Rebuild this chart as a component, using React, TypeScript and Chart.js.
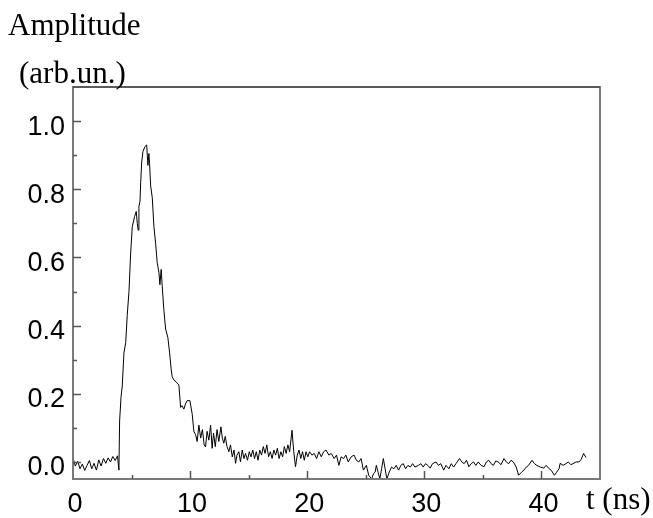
import React, { useEffect, useRef } from "react";
import { Chart, registerables } from "chart.js";

Chart.register(...registerables);

// time axis (ns)
const timeNs: number[] = [
  0, 0.2, 0.4, 0.6, 0.8, 1.0, 1.2, 1.4, 1.6, 1.8,
  2.0, 2.2, 2.4, 2.6, 2.8, 3.0, 3.2, 3.4, 3.6, 3.8,
  3.92, 3.98, 4.1, 4.2, 4.35, 4.5, 4.63, 4.78, 4.92, 5.06,
  5.26, 5.4, 5.49, 5.57, 5.63, 5.72, 5.78, 5.86, 5.97, 6.14,
  6.29, 6.4, 6.48, 6.54, 6.63, 6.77, 6.91, 7.06, 7.19, 7.34,
  7.42, 7.53, 7.62, 7.76, 7.91, 8.1, 8.25, 8.39, 8.47, 8.62,
  8.8, 9.04, 9.19, 9.3, 9.47, 9.6, 9.75, 9.98, 10.18, 10.32,
  10.47, 10.6, 10.75, 10.9, 11.05, 11.2, 11.32, 11.45, 11.6, 11.75,
  11.88, 12.0, 12.15, 12.3, 12.45, 12.63, 12.75, 12.88, 13.0, 13.15,
  13.31, 13.45, 13.6, 13.75, 13.88, 14.0, 14.16, 14.3, 14.45, 14.6,
  14.73, 14.9, 15.05, 15.2, 15.35, 15.5, 15.65, 15.8, 15.95, 16.1,
  16.25, 16.4, 16.55, 16.7, 16.85, 17.0, 17.15, 17.3, 17.45, 17.6,
  17.75, 17.9, 18.05, 18.2, 18.35, 18.5, 18.7, 18.85, 19.0, 19.15,
  19.3, 19.45, 19.6, 19.75, 19.9, 20.05, 20.2, 20.4, 20.6, 20.8,
  21.0, 21.2, 21.4, 21.6, 21.85, 22.05, 22.3, 22.5, 22.7, 22.9,
  23.1, 23.3, 23.5, 23.75, 24.0, 24.2, 24.4, 24.6, 24.8, 25.05,
  25.25, 25.5, 25.65, 25.8, 25.9, 26.05, 26.2, 26.35, 26.5, 26.65,
  26.8, 27.0, 27.2, 27.4, 27.6, 27.8, 28.0, 28.2, 28.4, 28.6,
  28.8, 29.0, 29.2, 29.5, 29.7, 29.9, 30.1, 30.3, 30.5, 30.7,
  31.0, 31.2, 31.4, 31.65, 31.85, 32.1, 32.3, 32.5, 32.7, 33.0,
  33.2, 33.4, 33.6, 33.8, 34.0, 34.2, 34.4, 34.6, 34.85, 35.1,
  35.3, 35.5, 35.7, 35.9, 36.1, 36.3, 36.55, 36.8, 37.0, 37.2,
  37.4, 37.6, 37.85, 38.05, 38.3, 38.5, 38.7, 38.9, 39.2, 39.4,
  39.6, 39.9, 40.2, 40.4, 40.6, 40.85, 41.1, 41.3, 41.5, 41.6,
  41.85, 42.1, 42.3, 42.5, 42.7, 42.95, 43.2, 43.4, 43.6, 43.8,
];

// amplitude (arb. units)
const amplitude: number[] = [
  0.012, -0.012, 0.002, -0.02, -0.006, -0.025, -0.01, 0.004, -0.02, -0.004,
  -0.024, 0.006, -0.012, 0.01, -0.004, 0.012, 0.0, 0.016, 0.004, 0.018,
  -0.024, 0.12, 0.19, 0.22, 0.32, 0.35, 0.43, 0.5, 0.61, 0.69,
  0.72, 0.735, 0.7, 0.68, 0.75, 0.765, 0.82, 0.877, 0.91, 0.925,
  0.93, 0.87, 0.905, 0.875, 0.81, 0.775, 0.69, 0.64, 0.585, 0.555,
  0.52, 0.565, 0.515, 0.445, 0.39, 0.365, 0.32, 0.27, 0.25, 0.24,
  0.235, 0.226, 0.16, 0.165, 0.155, 0.17, 0.18, 0.18, 0.14, 0.09,
  0.08, 0.06, 0.108, 0.07, 0.095, 0.05, 0.044, 0.09, 0.064, 0.108,
  0.04, 0.085, 0.045, 0.095, 0.06, 0.103, 0.07, 0.055, 0.075, 0.045,
  0.03, 0.05, 0.015, 0.035, -0.004, 0.02, 0.03, 0.0, 0.035, 0.01,
  0.025, 0.005, 0.03, 0.015, 0.035, 0.01, 0.03, 0.005, 0.035, 0.02,
  0.045, 0.025, 0.05, 0.015, 0.03, 0.01, 0.035, 0.02, 0.04, 0.01,
  0.03, 0.015, 0.045, 0.025, 0.05, 0.03, 0.093, 0.03, -0.014, 0.02,
  0.035, 0.01, 0.03, 0.005, 0.03, 0.015, 0.03, 0.02, 0.025, 0.01,
  0.03, 0.015, 0.03, 0.035, 0.02, 0.025, 0.01, 0.02, -0.01, 0.015,
  0.01, 0.02, 0.0, 0.015, 0.02, 0.005, 0.0, 0.01, -0.024, -0.01,
  -0.039, -0.05, -0.035, -0.03, -0.01, -0.03, -0.05, -0.02, 0.01, -0.02,
  -0.05, -0.03, -0.015, -0.02, -0.01, -0.024, -0.01, -0.005, -0.02, -0.01,
  -0.015, -0.005, -0.015, -0.01, -0.005, -0.015, -0.005, -0.01, -0.018, -0.005,
  0.0, -0.01, -0.005, -0.024, -0.01, -0.02, -0.005, -0.015, -0.005, 0.01,
  0.0, -0.005, 0.005, -0.014, -0.005, 0.0, -0.01, 0.0, -0.01, -0.014,
  0.0, 0.005, -0.005, -0.01, 0.003, 0.0, -0.008, 0.01, 0.0, -0.005,
  0.005, 0.0, -0.015, -0.039, -0.03, -0.024, -0.015, -0.01, 0.005, -0.005,
  -0.01, -0.015, -0.018, -0.01, -0.018, -0.025, -0.039, -0.03, -0.02, -0.004,
  -0.01, -0.005, 0.0, -0.008, -0.005, 0.0, 0.0, 0.008, 0.025, 0.013,
];

const xTickValues: number[] = [0, 5, 10, 15, 20, 25, 30, 35, 40, 45];
const xTickLabels: number[] = [0, 10, 20, 30, 40];
const yTickValues: number[] = [0, 0.1, 0.2, 0.3, 0.4, 0.5, 0.6, 0.7, 0.8, 0.9, 1.0];
const yTickLabels: string[] = ["0.0", "0.2", "0.4", "0.6", "0.8", "1.0"];

const yTitleLine1 = "Amplitude";
const yTitleLine2 = "(arb.un.)";
const xTitle = "t (ns)";

const isMajorX = (v: number) => xTickLabels.includes(v);
const yLabelFor = (v: number) => {
  const s = v.toFixed(1);
  return yTickLabels.includes(s) ? s : "";
};

const framePlugin = {
  id: "framePlugin",
  afterDatasetsDraw(chart: any) {
    const { ctx, chartArea: a, scales } = chart;
    ctx.save();
    // box
    ctx.strokeStyle = "#7a7a7a";
    ctx.lineWidth = 2;
    ctx.strokeRect(a.left, a.top, a.right - a.left, a.bottom - a.top);
    ctx.strokeStyle = "#5a5a5a";
    ctx.beginPath();
    ctx.moveTo(a.left, a.top);
    ctx.lineTo(a.right, a.top);
    ctx.stroke();
    // inward ticks
    ctx.strokeStyle = "#555";
    ctx.lineWidth = 1.5;
    for (const v of yTickValues) {
      const py = Math.round(scales.y.getPixelForValue(v)) + 0.5;
      const len = yLabelFor(v) ? 8 : 4;
      ctx.beginPath();
      ctx.moveTo(a.left, py);
      ctx.lineTo(a.left + len, py);
      ctx.stroke();
    }
    for (const v of xTickValues) {
      if (v === 0 || v === 45) continue;
      const px = Math.round(scales.x.getPixelForValue(v)) + 0.5;
      const len = isMajorX(v) ? 8 : 4;
      ctx.beginPath();
      ctx.moveTo(px, a.bottom);
      ctx.lineTo(px, a.bottom - len);
      ctx.stroke();
    }
    // titles
    ctx.fillStyle = "#000";
    ctx.font = '31px "Liberation Serif"';
    ctx.textBaseline = "alphabetic";
    ctx.textAlign = "left";
    ctx.fillText(yTitleLine1, 8, 35);
    ctx.fillText(yTitleLine2, 19, 83);
    ctx.fillText(xTitle, 586, 509);
    ctx.restore();
  },
};

export default function App() {
  const ref = useRef<HTMLCanvasElement>(null);

  useEffect(() => {
    if (!ref.current) return;
    const chart = new Chart(ref.current, {
      type: "line",
      data: {
        datasets: [
          {
            data: timeNs.map((t, i) => ({ x: t, y: amplitude[i] })),
            borderColor: "#000",
            borderWidth: 1,
            pointRadius: 0,
            tension: 0,
            fill: false,
          },
        ],
      },
      options: {
        responsive: false,
        animation: false,
        devicePixelRatio: 1,
        layout: { padding: { top: 87, right: 53, left: 0, bottom: 0 } },
        plugins: { legend: { display: false }, tooltip: { enabled: false } },
        scales: {
          x: {
            type: "linear",
            min: 0,
            max: 45,
            grid: { display: false },
            border: { display: false },
            afterBuildTicks: (s: any) => {
              s.ticks = xTickValues.map((v) => ({ value: v }));
            },
            afterFit: (s: any) => {
              s.height = 39;
            },
            ticks: {
              autoSkip: false,
              maxRotation: 0,
              padding: 1,
              labelOffset: 2,
              color: "#000",
              font: { family: "Liberation Sans", size: 27 },
              callback: (v: any) => (isMajorX(Number(v)) ? String(v) : ""),
            },
          },
          y: {
            type: "linear",
            min: -0.05,
            max: 1.1,
            grid: { display: false },
            border: { display: false },
            afterBuildTicks: (s: any) => {
              s.ticks = yTickValues.map((v) => ({ value: v }));
            },
            afterFit: (s: any) => {
              s.width = 73;
            },
            ticks: {
              autoSkip: false,
              padding: 0,
              labelOffset: 6,
              color: "#000",
              font: { family: "Liberation Sans", size: 27 },
              callback: (v: any) => yLabelFor(Number(v)),
            },
          },
        },
      },
      plugins: [framePlugin],
    });
    return () => chart.destroy();
  }, []);

  return (
    <div style={{ position: "fixed", left: 0, top: 0, width: 653, height: 518, background: "#fff" }}>
      <canvas ref={ref} width={653} height={518} style={{ display: "block" }} />
    </div>
  );
}
